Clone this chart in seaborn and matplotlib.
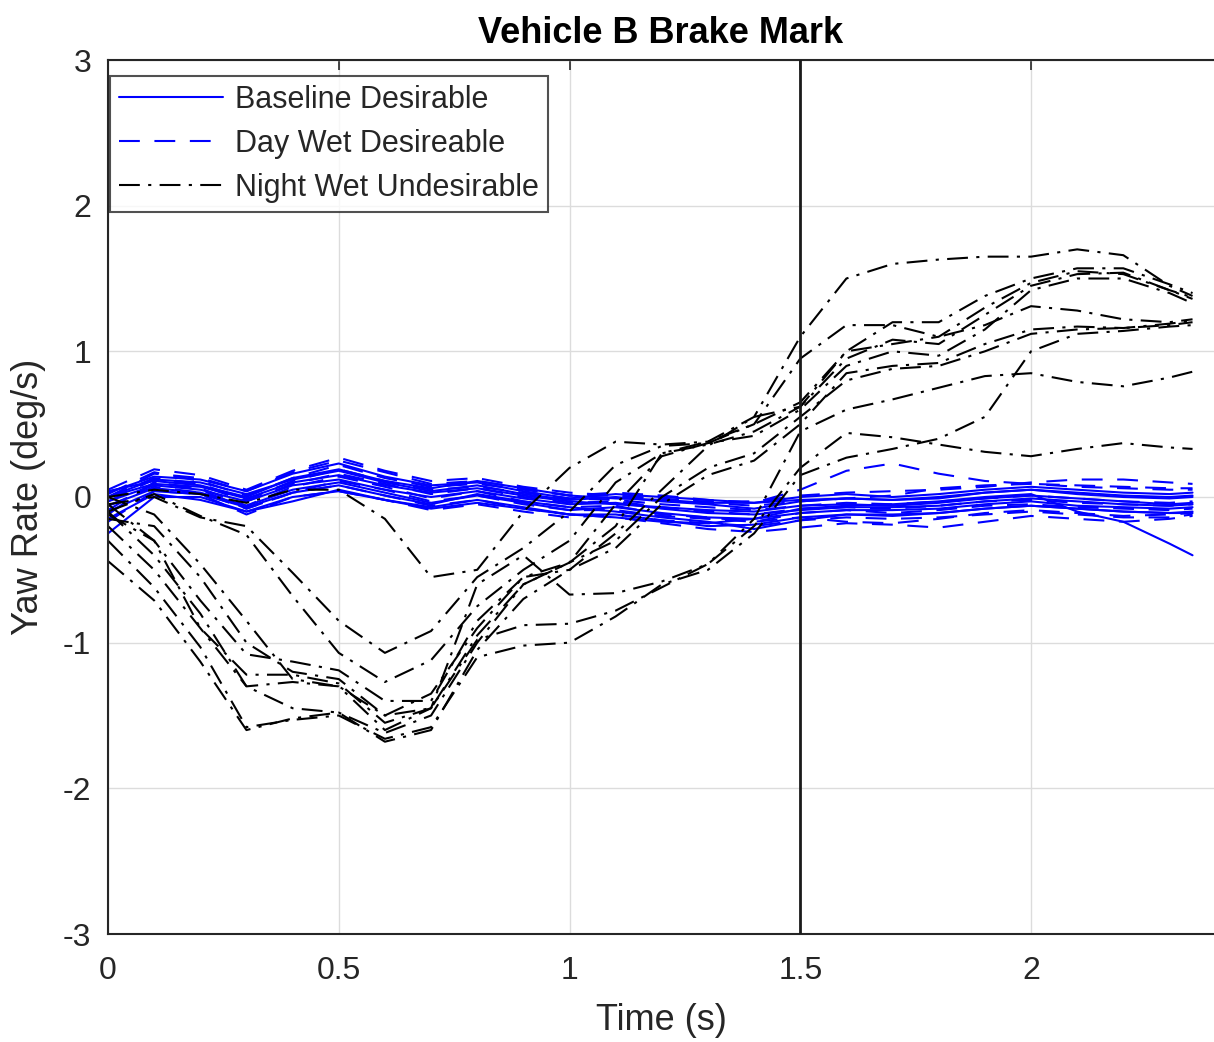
import numpy as np
import pandas as pd
import seaborn as sns
import matplotlib.pyplot as plt

# time samples (s)
time_s = [0.0, 0.1, 0.2, 0.3, 0.4, 0.5, 0.6, 0.7, 0.8, 0.9, 1.0, 1.1, 1.2,
          1.3, 1.4, 1.5, 1.6, 1.7, 1.8, 1.9, 2.0, 2.1, 2.2, 2.3, 2.35]

# yaw rate traces (deg/s)
baseline_runs = [
    [-0.25, 0.0, 0.0, -0.1, 0.0, 0.04, -0.02, -0.07, -0.02, -0.07, -0.12, -0.14, -0.17, -0.18, -0.15, -0.08, -0.06, -0.05, -0.03, 0.0, 0.02, -0.1, -0.17, -0.32, -0.4],
    [0.0, 0.12, 0.1, 0.02, 0.12, 0.18, 0.1, 0.04, 0.08, 0.02, -0.02, 0.0, -0.03, -0.05, -0.08, -0.03, -0.01, -0.02, 0.0, 0.03, 0.05, 0.02, 0.0, -0.01, 0.0],
    [-0.06, 0.06, 0.03, -0.06, 0.05, 0.1, 0.03, -0.04, 0.01, -0.04, -0.09, -0.07, -0.11, -0.14, -0.15, -0.11, -0.09, -0.09, -0.08, -0.05, -0.03, -0.06, -0.07, -0.08, -0.07],
    [0.03, 0.14, 0.12, 0.04, 0.16, 0.23, 0.14, 0.08, 0.1, 0.04, -0.01, 0.02, 0.0, -0.02, -0.04, 0.0, 0.02, 0.0, 0.02, 0.05, 0.07, 0.05, 0.03, 0.02, 0.03],
    [-0.15, 0.02, -0.02, -0.1, -0.03, 0.05, -0.02, -0.08, -0.04, -0.08, -0.12, -0.12, -0.16, -0.2, -0.19, -0.14, -0.12, -0.12, -0.11, -0.08, -0.06, -0.08, -0.1, -0.11, -0.1],
    [0.0, 0.09, 0.07, -0.01, 0.1, 0.15, 0.08, 0.03, 0.06, 0.01, -0.03, -0.05, -0.07, -0.09, -0.1, -0.06, -0.05, -0.06, -0.04, -0.01, 0.01, -0.01, -0.03, -0.05, -0.04],
    [-0.1, 0.04, 0.02, -0.07, 0.03, 0.08, 0.01, -0.05, 0.02, -0.03, -0.07, -0.1, -0.14, -0.17, -0.22, -0.16, -0.12, -0.13, -0.11, -0.08, -0.06, -0.08, -0.1, -0.11, -0.11],
    [0.04, 0.11, 0.08, 0.0, 0.13, 0.19, 0.11, 0.06, 0.11, 0.06, 0.01, -0.01, -0.02, -0.04, -0.04, -0.02, -0.01, -0.02, -0.01, 0.03, 0.05, 0.03, 0.01, 0.0, 0.01],
    [-0.03, 0.08, 0.05, -0.03, 0.08, 0.12, 0.05, 0.0, 0.04, -0.01, -0.05, -0.04, -0.08, -0.11, -0.12, -0.09, -0.07, -0.07, -0.06, -0.03, -0.01, -0.03, -0.05, -0.06, -0.05],
]

day_wet_runs = [
    [0.0, 0.16, 0.13, 0.04, 0.17, 0.25, 0.17, 0.09, 0.11, 0.06, 0.01, 0.03, 0.01, -0.02, -0.04, 0.05, 0.18, 0.23, 0.16, 0.11, 0.09, 0.08, 0.07, 0.06, 0.06],
    [-0.12, 0.1, 0.06, -0.06, 0.07, 0.14, 0.07, -0.01, 0.04, -0.03, -0.07, -0.06, -0.12, -0.14, -0.17, -0.14, -0.17, -0.18, -0.15, -0.11, -0.09, -0.11, -0.13, -0.12, -0.11],
    [0.02, 0.17, 0.11, 0.01, 0.13, 0.22, 0.13, 0.07, 0.09, 0.05, 0.01, 0.01, -0.01, -0.04, -0.06, -0.03, -0.01, 0.01, 0.06, 0.08, 0.09, 0.07, 0.06, 0.05, 0.05],
    [-0.06, 0.07, 0.03, -0.08, 0.03, 0.08, 0.01, -0.06, -0.02, -0.08, -0.12, -0.14, -0.18, -0.22, -0.24, -0.21, -0.18, -0.19, -0.21, -0.17, -0.13, -0.15, -0.17, -0.15, -0.13],
    [0.05, 0.19, 0.15, 0.05, 0.18, 0.27, 0.18, 0.11, 0.13, 0.07, 0.03, 0.01, -0.02, -0.03, -0.03, 0.01, 0.03, 0.04, 0.05, 0.07, 0.1, 0.12, 0.12, 0.1, 0.09],
    [-0.17, 0.04, 0.02, -0.12, 0.0, 0.04, -0.02, -0.09, -0.05, -0.1, -0.14, -0.12, -0.16, -0.18, -0.2, -0.16, -0.14, -0.15, -0.14, -0.12, -0.1, -0.12, -0.14, -0.14, -0.12],
    [0.0, 0.13, 0.09, -0.02, 0.11, 0.19, 0.11, 0.05, 0.07, 0.03, -0.01, -0.02, -0.05, -0.07, -0.09, -0.06, -0.04, -0.05, -0.03, -0.01, 0.01, -0.01, -0.03, -0.04, -0.03],
    [-0.09, 0.1, 0.05, -0.08, 0.03, 0.11, 0.05, -0.03, 0.01, -0.05, -0.09, -0.09, -0.13, -0.15, -0.17, -0.11, -0.09, -0.11, -0.09, -0.06, -0.05, -0.07, -0.08, -0.09, -0.08],
    [-0.03, 0.12, 0.08, -0.03, 0.09, 0.16, 0.09, 0.02, 0.06, 0.0, -0.04, -0.03, -0.07, -0.1, -0.12, -0.08, -0.07, -0.08, -0.06, -0.03, -0.02, -0.04, -0.05, -0.06, -0.05],
]

night_wet_runs = [
    [0.0, 0.05, 0.02, -0.04, 0.05, 0.05, -0.15, -0.55, -0.5, -0.1, 0.2, 0.38, 0.36, 0.38, 0.55, 1.1, 1.5, 1.6, 1.63, 1.65, 1.65, 1.7, 1.66, 1.45, 1.38],
    [-0.05, 0.0, -0.14, -0.2, -0.52, -0.85, -1.07, -0.92, -0.55, -0.35, -0.1, 0.22, 0.35, 0.37, 0.5, 0.95, 1.18, 1.18, 1.1, 1.18, 1.31, 1.28, 1.22, 1.2, 1.22],
    [-0.1, 0.02, -0.13, -0.26, -0.68, -1.07, -1.27, -1.12, -0.75, -0.5, -0.3, 0.1, 0.3, 0.36, 0.45, 0.62, 0.95, 1.08, 1.05, 1.25, 1.45, 1.53, 1.54, 1.42, 1.36],
    [-0.12, -0.3, -0.71, -1.08, -1.13, -1.19, -1.4, -1.4, -0.85, -0.55, -0.45, -0.05, 0.28, 0.37, 0.42, 0.6, 0.9, 1.0, 0.97, 1.15, 1.42, 1.5, 1.5, 1.4, 1.33],
    [-0.44, -0.71, -1.13, -1.6, -1.52, -1.48, -1.62, -1.5, -1.0, -0.6, -0.45, -0.3, 0.0, 0.2, 0.3, 0.55, 0.8, 0.88, 0.9, 1.0, 1.12, 1.15, 1.16, 1.18, 1.2],
    [-0.3, -0.62, -1.03, -1.58, -1.53, -1.5, -1.66, -1.58, -1.1, -1.02, -1.0, -0.82, -0.6, -0.5, -0.25, 0.15, 0.27, 0.33, 0.4, 0.55, 1.0, 1.12, 1.14, 1.17, 1.18],
    [-0.05, -0.3, -0.9, -1.22, -1.22, -1.28, -1.55, -1.45, -0.98, -0.88, -0.87, -0.78, -0.62, -0.46, -0.15, 0.45, 0.6, 0.67, 0.75, 0.83, 0.85, 0.79, 0.76, 0.82, 0.86],
    [-0.2, -0.5, -0.9, -1.3, -1.27, -1.3, -1.6, -1.45, -0.6, -0.4, -0.67, -0.66, -0.58, -0.46, -0.2, 0.2, 0.44, 0.41, 0.36, 0.31, 0.28, 0.33, 0.37, 0.34, 0.33],
    [0.0, -0.12, -0.46, -0.85, -1.25, -1.3, -1.5, -1.35, -0.9, -0.55, -0.5, -0.25, 0.05, 0.35, 0.55, 0.62, 1.0, 1.2, 1.2, 1.38, 1.5, 1.57, 1.57, 1.46, 1.4],
    [-0.15, -0.2, -0.55, -1.0, -1.2, -1.25, -1.5, -1.45, -0.95, -0.6, -0.45, -0.2, 0.3, 0.38, 0.5, 0.65, 1.0, 1.05, 1.1, 1.3, 1.47, 1.55, 1.53, 1.42, 1.37],
    [-0.1, -0.4, -0.8, -1.3, -1.45, -1.48, -1.68, -1.6, -1.05, -0.7, -0.5, -0.35, -0.05, 0.15, 0.25, 0.5, 0.85, 0.9, 0.92, 1.05, 1.15, 1.17, 1.16, 1.19, 1.21],
]

group_names = ['Baseline Desirable', 'Day Wet Desireable', 'Night Wet Undesirable']

rows = []
for name, runs in zip(group_names, [baseline_runs, day_wet_runs, night_wet_runs]):
    for i, run in enumerate(runs):
        for t, v in zip(time_s, run):
            rows.append({'time': t, 'yaw': v, 'group': name, 'run': f'{name}-{i}'})
df = pd.DataFrame(rows)

sns.set_theme(style='white')
plt.rcParams['font.family'] = ['Liberation Sans', 'DejaVu Sans']
plt.rcParams['axes.unicode_minus'] = False

fig = plt.figure(figsize=(12.14, 10.42), dpi=100)
ax = fig.add_axes([108 / 1214, 1 - 934 / 1042, 1 - 108 / 1214, (934 - 60) / 1042])

palette = {'Baseline Desirable': '#0000ff', 'Day Wet Desireable': '#0000ff',
           'Night Wet Undesirable': '#000000'}
dashes = {'Baseline Desirable': '', 'Day Wet Desireable': (10, 7),
          'Night Wet Undesirable': (10, 4, 1.5, 4)}

sns.lineplot(data=df, x='time', y='yaw', hue='group', style='group', units='run',
             estimator=None, hue_order=group_names, style_order=group_names,
             palette=palette, dashes=dashes, linewidth=1.5, ax=ax, sort=False)

ax.axvline(1.5, color='#1a1a1a', linewidth=2.0, zorder=5)

ax.set_xlim(0, 2.3965)
ax.set_ylim(-3, 3)
ax.set_xticks([0, 0.5, 1, 1.5, 2])
ax.set_xticklabels(['0', '0.5', '1', '1.5', '2'])
ax.set_yticks([-3, -2, -1, 0, 1, 2, 3])
ax.set_yticklabels(['-3', '-2', '-1', '0', '1', '2', '3'])
ax.grid(True, color='#dcdcdc', linewidth=1.0)
ax.set_axisbelow(True)
ax.tick_params(direction='in', length=7, width=1.2, colors='#262626',
               labelsize=23, top=True, right=False)
ax.tick_params(axis='x', pad=16)
ax.tick_params(axis='y', pad=12)
for side in ['left', 'bottom', 'top']:
    ax.spines[side].set_color('#262626')
    ax.spines[side].set_linewidth(1.5)
ax.spines['right'].set_visible(False)

ax.set_xlabel('Time (s)', fontsize=26, color='#262626', labelpad=12)
ax.set_ylabel('Yaw Rate (deg/s)', fontsize=26, color='#262626', labelpad=12)
ax.set_title('Vehicle B Brake Mark', fontsize=26, fontweight='bold', color='black', pad=12)

old = ax.get_legend()
handles = old.legend_handles
labels = [t.get_text() for t in old.get_texts()]
old.remove()
leg = ax.legend(handles, labels, loc='upper left', bbox_to_anchor=(2 / 1106, 1 - 16 / 874),
                fontsize=22, frameon=True, fancybox=False, handlelength=3.4,
                handletextpad=0.4, borderaxespad=0.0, borderpad=0.3, labelspacing=0.45)
leg.get_frame().set_edgecolor('#262626')
leg.get_frame().set_linewidth(1.5)
for h in leg.legend_handles:
    h.set_linewidth(1.5)

fig.savefig('out.png', dpi=100)
